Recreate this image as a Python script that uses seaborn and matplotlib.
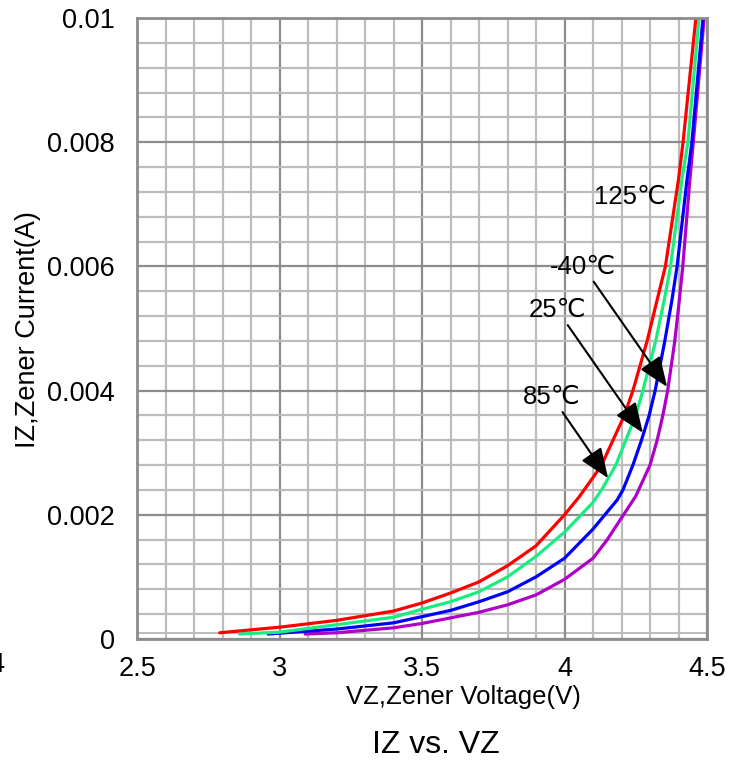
import numpy as np
import pandas as pd
import matplotlib
matplotlib.use("Agg")
import matplotlib.pyplot as plt
from matplotlib.ticker import MultipleLocator, FixedLocator
import seaborn as sns

# ---- data ----
v_125 = [2.79, 3.0, 3.2, 3.4, 3.5, 3.6, 3.7, 3.8, 3.9, 4.0, 4.05, 4.1, 4.13, 4.17,
         4.21, 4.24, 4.29, 4.325, 4.354, 4.40, 4.416, 4.461]
i_125 = [0.0001, 0.00019, 0.0003, 0.00045, 0.00058, 0.00074, 0.00092, 0.00118, 0.0015,
         0.002, 0.00228, 0.0026, 0.0028, 0.0032, 0.0036, 0.004, 0.0048, 0.00546, 0.006,
         0.0074, 0.008, 0.01]

v_85 = [2.86, 3.0, 3.2, 3.4, 3.5, 3.6, 3.7, 3.8, 3.9, 4.0, 4.1, 4.13, 4.18, 4.215,
        4.25, 4.275, 4.32, 4.35, 4.372, 4.412, 4.433, 4.472]
i_85 = [0.00008, 0.00011, 0.00023, 0.00035, 0.00048, 0.0006, 0.00076, 0.001, 0.00133,
        0.00172, 0.0022, 0.0024, 0.0028, 0.0032, 0.0036, 0.004, 0.0048, 0.00546, 0.006,
        0.0074, 0.008, 0.01]

v_25 = [2.96, 3.2, 3.4, 3.5, 3.6, 3.7, 3.8, 3.9, 4.0, 4.1, 4.185, 4.205, 4.24, 4.27,
        4.297, 4.318, 4.352, 4.377, 4.395, 4.43, 4.447, 4.486]
i_25 = [0.00008, 0.00016, 0.00026, 0.00036, 0.00046, 0.0006, 0.00076, 0.001, 0.0013,
        0.00177, 0.00224, 0.0024, 0.0028, 0.0032, 0.0036, 0.004, 0.0048, 0.00546, 0.006,
        0.0074, 0.008, 0.01]

v_m40 = [3.09, 3.2, 3.4, 3.5, 3.6, 3.7, 3.8, 3.9, 4.0, 4.1, 4.15, 4.2, 4.25, 4.27, 4.3,
         4.325, 4.345, 4.362, 4.387, 4.403, 4.415, 4.44, 4.452, 4.49]
i_m40 = [0.00008, 0.0001, 0.00018, 0.00025, 0.00034, 0.00043, 0.00055, 0.00071, 0.00096,
         0.0013, 0.0016, 0.00195, 0.0023, 0.0025, 0.0028, 0.0032, 0.0036, 0.004, 0.0048,
         0.00546, 0.006, 0.0074, 0.008, 0.01]

series_names = ["-40℃", "25℃", "85℃", "125℃"]
colors = {"-40℃": "#b000c8", "25℃": "#0000ff", "85℃": "#18ee80", "125℃": "#ff0000"}

x_ticks = [2.5, 3.0, 3.5, 4.0, 4.5]
x_tick_labels = ["2.5", "3", "3.5", "4", "4.5"]
y_ticks = [0, 0.002, 0.004, 0.006, 0.008, 0.01]
y_tick_labels = ["0", "0.002", "0.004", "0.006", "0.008", "0.01"]

rows = []
for name, vs, iz in [("-40℃", v_m40, i_m40), ("25℃", v_25, i_25),
                     ("85℃", v_85, i_85), ("125℃", v_125, i_125)]:
    for a, b in zip(vs, iz):
        rows.append({"VZ": a, "IZ": b, "T": name})
df = pd.DataFrame(rows)

sns.set_style("white")
plt.rcParams["font.family"] = ["Liberation Sans", "DejaVu Sans"]
plt.rcParams["text.color"] = "black"
plt.rcParams["axes.labelcolor"] = "black"
plt.rcParams["xtick.labelcolor"] = "black"
plt.rcParams["ytick.labelcolor"] = "black"

W, H = 743, 762
fig = plt.figure(figsize=(W / 100, H / 100), dpi=100)
ax = fig.add_axes([137 / W, 1 - 639 / H, 570 / W, 621 / H])

MAJ = "#8c8c8c"
MIN = "#bcbcbc"

ax.set_xlim(2.5, 4.5)
ax.set_ylim(0, 0.01)
ax.xaxis.set_major_locator(FixedLocator(x_ticks))
ax.set_xticklabels(x_tick_labels)
ax.yaxis.set_major_locator(FixedLocator(y_ticks))
ax.set_yticklabels(y_tick_labels)
ax.xaxis.set_minor_locator(MultipleLocator(0.1))
ax.yaxis.set_minor_locator(MultipleLocator(0.0004))
ax.grid(which="minor", color=MIN, linewidth=1.6, zorder=0)
ax.grid(which="major", color=MAJ, linewidth=1.6, zorder=0)
ax.axhline(0.0001, color=MIN, linewidth=1.4, zorder=0)
ax.set_axisbelow(True)

sns.lineplot(data=df, x="VZ", y="IZ", hue="T", hue_order=series_names,
             palette=colors, sort=False, estimator=None,
             linewidth=2.3, legend=False, ax=ax)

for sp in ax.spines.values():
    sp.set_color(MAJ)
    sp.set_linewidth(2.0)

ax.tick_params(axis="y", which="major", direction="out", length=7, width=1.2,
               color=MAJ, pad=9, labelsize=19.5)
ax.tick_params(axis="x", which="major", direction="out", length=3, width=1.2,
               color=MAJ, pad=9, labelsize=19.5)
ax.tick_params(which="minor", length=0)

ax.set_xlabel("VZ,Zener Voltage(V)", fontsize=18.5)
ax.xaxis.set_label_coords((463 - 137) / 570, (639 - 697) / 621)
ax.xaxis.label.set_va("center")
ax.set_ylabel("IZ,Zener Current(A)", fontsize=19.5)
ax.yaxis.set_label_coords((28 - 137) / 570, (639 - 330) / 621)
ax.yaxis.label.set_va("center")

fig.text(436 / W, 1 - 745 / H, "IZ vs. VZ", fontsize=23, ha="center", va="center")
fig.text(4 / W, 1 - 665 / H, "4", fontsize=19.5, ha="right", va="center")

# annotations
ax.text(4.23, 0.00712, "125℃", fontsize=18.5, ha="center", va="center")
arrow = dict(arrowstyle="-|>,head_length=1.0,head_width=0.4", color="black", lw=1.5,
             shrinkA=0, shrinkB=0)
ax.annotate("-40℃", xy=(4.36, 0.00406), xytext=(4.065, 0.0060), fontsize=18.5,
            ha="center", va="center", arrowprops=dict(arrow))
ax.annotate("25℃", xy=(4.275, 0.00332), xytext=(3.974, 0.0053), fontsize=18.5,
            ha="center", va="center", arrowprops=dict(arrow))
ax.annotate("85℃", xy=(4.153, 0.00259), xytext=(3.956, 0.0039), fontsize=18.5,
            ha="center", va="center", arrowprops=dict(arrow))

fig.savefig("out.png", dpi=100)
